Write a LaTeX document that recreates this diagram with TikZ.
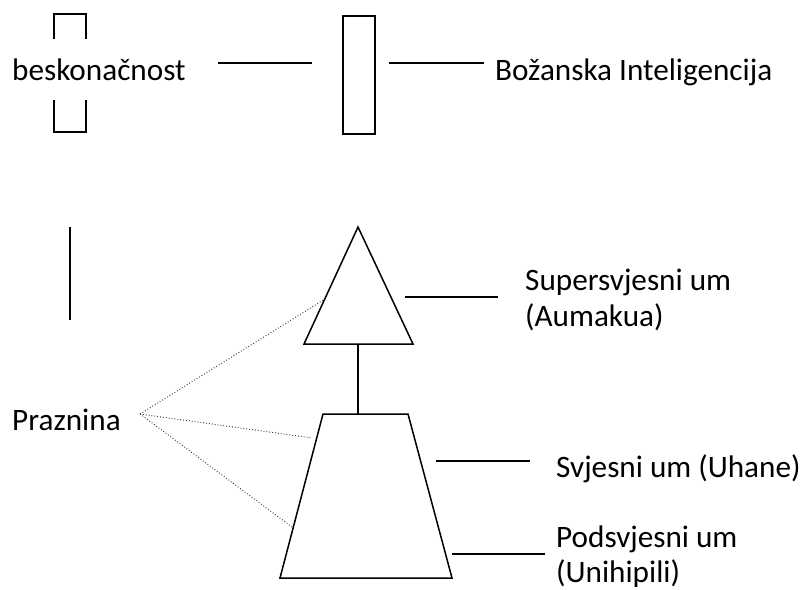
\documentclass[tikz,border=0pt]{standalone}
\usepackage{fontspec}
\setmainfont{Carlito}
\begin{document}
\begin{tikzpicture}[x=1pt,y=-1pt,
  lbl/.style={inner sep=0pt,anchor=base west,font=\fontsize{31.2}{36}\selectfont},
  ln/.style={line width=1.5pt,line join=miter},
  dots/.style={line width=0.9pt,dotted,black!80}]
\useasboundingbox (0,0) rectangle (803,589);
% texts
\node[lbl] (besk) at (12,80) {beskonačnost};
\node[lbl] (boz) at (495,80) {Božanska Inteligencija};
\node[lbl] (praz) at (12,430) {Praznina};
\node[lbl] (sup1) at (525,290) {Supersvjesni um};
\node[lbl] (sup2) at (525,326) {(Aumakua)};
\node[lbl] (svj) at (556,477) {Svjesni um (Uhane)};
\node[lbl] (pod1) at (556,547) {Podsvjesni um};
\node[lbl] (pod2) at (556,582) {(Unihipili)};
% brackets
\draw[ln] (54,39) -- (54,14) -- (86,14) -- (86,39);
\draw[ln] (54,100) -- (54,132) -- (86,132) -- (86,100);
% rectangle
\node[draw,line width=1.5pt,minimum width=32pt,minimum height=118pt,inner sep=0pt] (rect) at (359,75) {};
% horizontal lines top
\coordinate (l1a) at (218,63); \coordinate (l1b) at (312,63);
\coordinate (l2a) at (389,63); \coordinate (l2b) at (484,63);
\draw[ln] (l1a) -- (l1b);
\draw[ln] (l2a) -- (l2b);
% vertical line left
\coordinate (va) at (70,227); \coordinate (vb) at (70,320);
\draw[ln] (va) -- (vb);
% triangle
\coordinate (tA) at (358,227); \coordinate (tL) at (304,344); \coordinate (tR) at (413,344);
\coordinate (tB) at (358,344);
\draw[ln] (tA) -- (tL) -- (tR) -- cycle;
% trapezoid
\coordinate (zTL) at (323,414); \coordinate (zTR) at (408,414);
\coordinate (zBL) at (280,578); \coordinate (zBR) at (452,578);
\coordinate (zT) at (358,414);
\draw[ln] (zTL) -- (zTR) -- (zBR) -- (zBL) -- cycle;
% connector triangle-trapezoid
\draw[ln] (tB) -- (zT);
% label lines
\coordinate (s1) at (405,297); \coordinate (s2) at (498,297);
\coordinate (c1) at (436,461); \coordinate (c2) at (530,461);
\coordinate (p1) at (452,554); \coordinate (p2) at (545,554);
\draw[ln] (s1) -- (s2);
\draw[ln] (c1) -- (c2);
\draw[ln] (p1) -- (p2);
% dotted lines
\coordinate (pz) at (140,414);
\coordinate (d1) at (325,299); \coordinate (d2) at (312,438); \coordinate (d3) at (292,527);
\draw[dots] (pz) -- (d1);
\draw[dots] (pz) -- (d2);
\draw[dots] (pz) -- (d3);
\end{tikzpicture}
\end{document}
